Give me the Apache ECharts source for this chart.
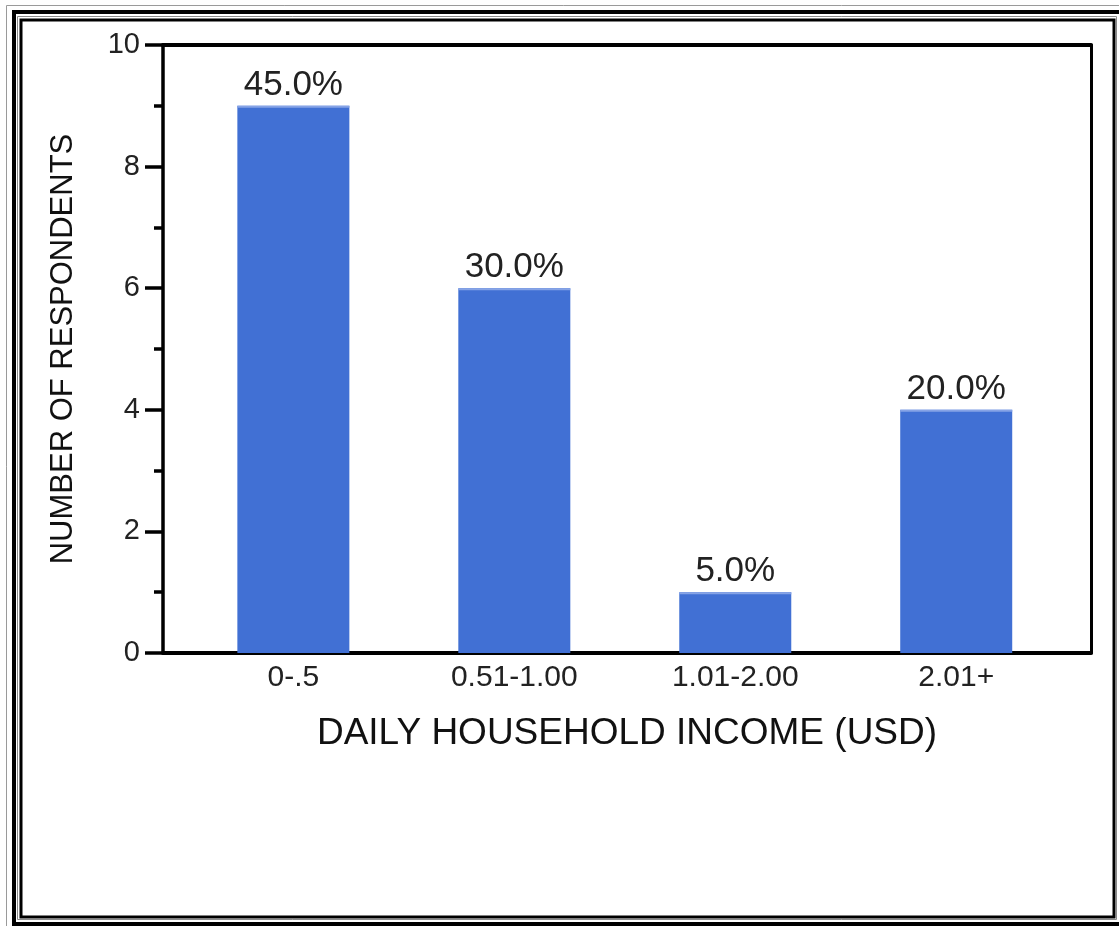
<!DOCTYPE html>
<html>
<head>
<meta charset="utf-8">
<script src="https://cdn.jsdelivr.net/npm/echarts@6/dist/echarts.min.js"></script>
<style>
  html, body { margin: 0; padding: 0; background: #fff; }
  #chart { width: 1119px; height: 926px; }
</style>
</head>
<body>
<div id="chart"></div>
<script>
// Respondents grouped by daily household income
const incomeBands = ['0-.5', '0.51-1.00', '1.01-2.00', '2.01+'];
const respondents = [9, 6, 1, 4];
const bandPositions = [0, 1, 2, 3];

const total = respondents.reduce((a, b) => a + b, 0);
const barData = bandPositions.map((x, i) => [x, respondents[i]]);

const FONT = 'Liberation Sans, Arial, sans-serif';
const BAR_WIDTH = 112;

const chart = echarts.init(document.getElementById('chart'), null, { renderer: 'canvas' });

chart.setOption({
  animation: false,
  backgroundColor: '#fff',
  textStyle: { fontFamily: FONT },
  grid: { left: 163, right: 28, top: 45, bottom: 273, containLabel: false },
  // decorative page frame
  graphic: [
    { type: 'rect', silent: true, shape: { x: 6.5, y: 5.5, width: 2000, height: 2000 },
      style: { fill: null, stroke: '#9a9a9a', lineWidth: 1 } },
    { type: 'rect', silent: true, shape: { x: 14, y: 12, width: 2000, height: 912 },
      style: { fill: null, stroke: '#000', lineWidth: 4 } },
    { type: 'rect', silent: true, shape: { x: 17.5, y: 16.5, width: 1099, height: 903 },
      style: { fill: null, stroke: '#8a8a8a', lineWidth: 1 } },
    { type: 'rect', silent: true, shape: { x: 21, y: 20, width: 1093, height: 897 },
      style: { fill: null, stroke: '#000', lineWidth: 3 } }
  ],
  xAxis: [
    {
      type: 'value', position: 'bottom', min: -0.59, max: 3.61,
      axisLine: { show: true, onZero: false, lineStyle: { color: '#000', width: 4 } },
      axisTick: { show: false },
      splitLine: { show: false },
      axisLabel: {
        customValues: bandPositions,
        formatter: v => incomeBands[Math.round(v)],
        fontSize: 30, color: '#222', margin: 10, fontFamily: FONT
      },
      name: 'DAILY HOUSEHOLD INCOME (USD)',
      nameLocation: 'middle', nameGap: 62,
      nameTextStyle: { fontSize: 37, color: '#111', fontFamily: FONT }
    },
    {
      type: 'value', position: 'top', min: -0.59, max: 3.61,
      axisLine: { show: true, onZero: false, lineStyle: { color: '#000', width: 4 } },
      axisTick: { show: false }, axisLabel: { show: false }, splitLine: { show: false }
    }
  ],
  yAxis: [
    {
      type: 'value', position: 'left', min: 0, max: 10, interval: 2,
      axisLine: { show: true, onZero: false, lineStyle: { color: '#000', width: 3.5 } },
      axisTick: { show: true, length: 18, lineStyle: { color: '#000', width: 3.5 } },
      minorTick: { show: true, splitNumber: 2, length: 9, lineStyle: { color: '#000', width: 3.5 } },
      splitLine: { show: false },
      axisLabel: { fontSize: 29, color: '#222', margin: 23, fontFamily: FONT },
      name: 'NUMBER OF RESPONDENTS',
      nameLocation: 'middle', nameGap: 84, nameRotate: 90,
      nameTextStyle: { fontSize: 31, color: '#111', fontFamily: FONT }
    },
    {
      type: 'value', position: 'right', min: 0, max: 10,
      axisLine: { show: true, onZero: false, lineStyle: { color: '#000', width: 3 } },
      axisTick: { show: false }, axisLabel: { show: false }, splitLine: { show: false }
    }
  ],
  series: [
    {
      type: 'bar',
      xAxisIndex: 0, yAxisIndex: 0,
      data: barData,
      barWidth: BAR_WIDTH,
      itemStyle: { color: '#4170D4' },
      label: {
        show: true, position: 'top', distance: 3,
        formatter: p => (p.value[1] / total * 100).toFixed(1) + '%',
        fontSize: 35, color: '#222', fontFamily: FONT
      }
    },
    {
      // lighter edge along the top of each bar
      type: 'custom',
      xAxisIndex: 0, yAxisIndex: 0,
      data: barData,
      z: 3,
      renderItem: (params, api) => {
        const p = api.coord([api.value(0), api.value(1)]);
        return {
          type: 'line',
          shape: { x1: p[0] - BAR_WIDTH / 2, y1: p[1] + 1, x2: p[0] + BAR_WIDTH / 2, y2: p[1] + 1 },
          style: { stroke: '#86A3E6', lineWidth: 2 }
        };
      }
    }
  ]
});
</script>
</body>
</html>
